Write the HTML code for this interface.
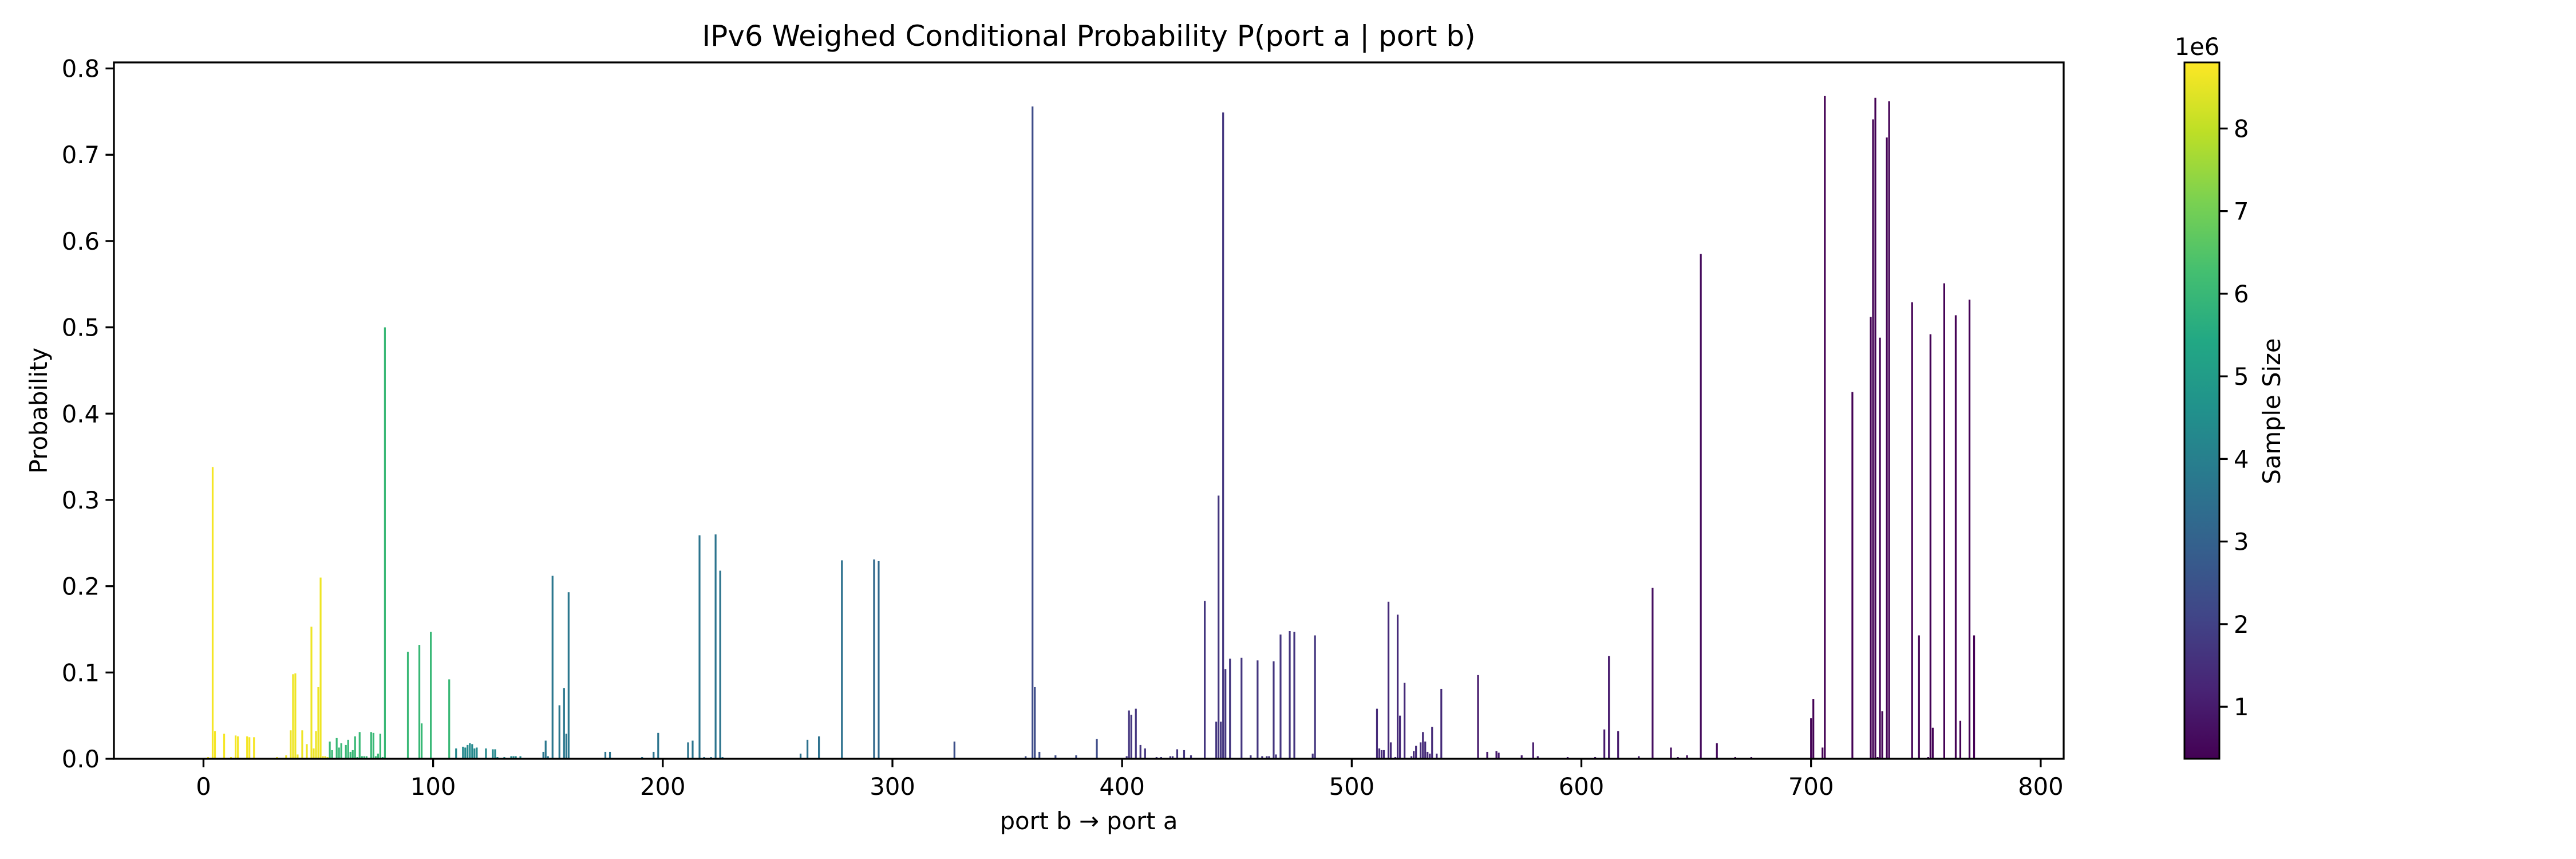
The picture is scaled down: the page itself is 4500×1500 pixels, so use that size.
<!DOCTYPE html>
<html><head><meta charset="utf-8"><style>
html,body{margin:0;padding:0;background:#fff}
svg{display:block;font-family:"DejaVu Sans","Liberation Sans",sans-serif}
</style></head><body>
<svg id="chart" width="4500" height="1500" viewBox="0 0 4500 1500" xmlns="http://www.w3.org/2000/svg">
<defs>
<linearGradient id="vir" x1="0" y1="1" x2="0" y2="0">
<stop offset="0" stop-color="#440154"/><stop offset="0.1" stop-color="#482475"/><stop offset="0.2" stop-color="#414487"/><stop offset="0.3" stop-color="#355f8d"/><stop offset="0.4" stop-color="#2a788e"/><stop offset="0.5" stop-color="#21918c"/><stop offset="0.6" stop-color="#22a884"/><stop offset="0.7" stop-color="#44bf70"/><stop offset="0.8" stop-color="#7ad151"/><stop offset="0.9" stop-color="#bddf26"/><stop offset="1" stop-color="#fde725"/>
</linearGradient>
</defs>
<text x="1902" y="80" font-size="50" text-anchor="middle">IPv6 Weighed Conditional Probability P(port a | port b)</text>
<g id="bars"></g>
<g id="axes"></g>
<text x="1902" y="1448" font-size="41.7" text-anchor="middle">port b → port a</text>
<text x="0" y="0" font-size="41.7" text-anchor="middle" transform="translate(82,717) rotate(-90)">Probability</text>
<rect x="3816" y="109" width="61" height="1216" fill="url(#vir)" stroke="#000" stroke-width="3"/>
<g id="cbticks"></g>
<text x="3838" y="96" font-size="41.7" text-anchor="middle">1e6</text>
<text x="0" y="0" font-size="41.7" text-anchor="middle" transform="translate(3983,718) rotate(-90)">Sample Size</text>
</svg>
<script>
const ports = [2,4,5,9,12,14,15,19,20,22,32,36,38,39,40,41,43,45,47,48,49,50,51,52,53,54,
55,56,58,59,60,62,63,64,65,66,67,68,69,70,71,73,74,75,76,77,78,79,89,94,95,99,107,
110,113,114,115,116,117,118,119,123,126,127,128,131,134,135,136,138,
148,149,150,152,155,157,158,159,175,177,191,196,198,211,213,216,218,221,223,225,226,240,243,246,250,260,263,268,278,
292,294,327,332,358,361,362,364,370,371,380,389,
402,403,404,406,408,410,415,417,421,422,424,427,430,436,441,442,443,444,445,447,450,452,456,459,461,463,464,466,467,469,473,475,481,482,483,484,
511,512,513,514,516,517,519,520,521,523,526,527,528,530,531,532,533,534,535,537,539,
555,559,563,564,574,579,581,589,594,606,610,612,616,625,
631,639,642,646,652,659,667,674,692,695,700,701,705,706,718,723,726,727,728,729,730,731,733,734,744,747,751,752,753,758,763,765,769,771];
const probs = [0.002,0.338,0.032,0.029,0.002,0.027,0.026,0.026,0.025,0.025,0.002,0.004,0.033,0.098,0.099,0.005,0.033,0.017,0.153,0.012,0.032,0.083,0.21,0.003,0.003,0.002,
0.02,0.01,0.024,0.013,0.018,0.016,0.022,0.008,0.01,0.026,0.002,0.031,0.003,0.003,0.003,0.031,0.03,0.003,0.006,0.029,0.002,0.50,0.124,0.132,0.041,0.147,0.092,
0.012,0.014,0.013,0.016,0.018,0.017,0.012,0.013,0.012,0.011,0.011,0.002,0.002,0.003,0.003,0.003,0.003,
0.008,0.021,0.003,0.212,0.062,0.082,0.029,0.193,0.008,0.008,0.002,0.008,0.03,0.019,0.021,0.259,0.002,0.002,0.26,0.218,0.002,0.001,0.001,0.001,0.001,0.006,0.022,0.026,0.23,
0.231,0.229,0.02,0.001,0.003,0.756,0.083,0.008,0.001,0.004,0.004,0.023,
0.003,0.056,0.051,0.058,0.016,0.012,0.002,0.002,0.003,0.003,0.011,0.010,0.004,0.183,0.043,0.305,0.043,0.749,0.104,0.116,0.001,0.117,0.004,0.114,0.003,0.003,0.003,0.113,0.005,0.144,0.148,0.147,0.001,0.001,0.006,0.143,
0.058,0.012,0.010,0.010,0.182,0.019,0.002,0.167,0.05,0.088,0.003,0.009,0.015,0.019,0.031,0.02,0.008,0.006,0.037,0.006,0.081,
0.097,0.008,0.009,0.007,0.004,0.019,0.003,0.001,0.002,0.002,0.034,0.119,0.032,0.003,
0.198,0.013,0.002,0.004,0.585,0.018,0.002,0.002,0.001,0.001,0.047,0.069,0.013,0.768,0.425,0.001,0.512,0.741,0.766,0.002,0.488,0.055,0.72,0.762,0.529,0.143,0.002,0.492,0.036,0.551,0.514,0.044,0.532,0.143];
const sizes = [8.7,8.7,8.7,8.7,8.7,8.7,8.7,8.7,8.7,8.7,8.6,8.6,8.6,8.6,8.6,8.6,8.6,8.6,8.6,8.6,8.6,8.6,8.6,8.6,8.6,8.6,
6.0,6.0,6.0,6.0,6.0,6.0,6.0,6.0,6.0,6.0,6.0,6.0,6.0,6.0,6.0,6.0,6.0,6.0,6.0,6.0,6.0,6.0,6.0,6.0,6.0,6.0,6.0,
4.3,4.3,4.3,4.3,4.3,4.3,4.3,4.3,4.3,4.3,4.3,4.3,4.3,4.3,4.3,4.3,4.3,
3.7,3.7,3.7,3.7,3.7,3.7,3.7,3.7,3.6,3.6,3.6,3.6,3.6,3.6,3.6,3.6,3.6,3.6,3.6,3.6,3.6,3.5,3.5,3.5,3.5,3.5,3.5,3.5,3.5,
3.2,3.2,2.4,2.4,2.3,2.3,2.3,2.3,2.3,2.3,2.3,2.3,
1.7,1.7,1.7,1.7,1.7,1.7,1.7,1.7,1.7,1.7,1.7,1.7,1.7,1.7,1.7,1.7,1.7,1.7,1.7,1.7,1.7,1.7,1.7,1.7,1.7,1.7,1.7,1.7,1.7,1.7,1.7,1.7,1.7,1.7,1.7,1.7,
1.4,1.4,1.4,1.4,1.4,1.4,1.4,1.4,1.4,1.4,1.4,1.4,1.4,1.4,1.4,1.4,1.4,1.4,1.4,1.4,1.4,
1.0,1.0,1.0,1.0,1.0,1.0,1.0,1.0,1.0,1.0,1.0,1.0,1.0,1.0,
0.7,0.7,0.7,0.7,0.6,0.6,0.6,0.6,0.5,0.5,0.4,0.4,0.4,0.4,0.4,0.4,0.4,0.4,0.4,0.4,0.4,0.4,0.4,0.4,0.4,0.4,0.4,0.4,0.4,0.4,0.4,0.4,0.4,0.4];
const xTicks = [0,100,200,300,400,500,600,700,800];
const yTicks = [0.0,0.1,0.2,0.3,0.4,0.5,0.6,0.7,0.8];
const cbTicks = [1,2,3,4,5,6,7,8];

const L=199,R=3605,T=109,B=1325;
const xMin=-39, xMax=810, yMin=0, yMax=0.807;
const cMin=0.37, cMax=8.8;
function sx(v){return L+(v-xMin)/(xMax-xMin)*(R-L);}
function sy(v){return B-(v-yMin)/(yMax-yMin)*(B-T);}
function cy(v){return B-(v-cMin)/(cMax-cMin)*(B-T);}
const vstops=["#440154","#482475","#414487","#355f8d","#2a788e","#21918c","#22a884","#44bf70","#7ad151","#bddf26","#fde725"];
function hex(h){return [1,3,5].map(i=>parseInt(h.substr(i,2),16));}
function viridis(t){t=Math.max(0,Math.min(1,t));const f=t*10,i=Math.min(9,Math.floor(f)),r=f-i;
const a=hex(vstops[i]),b=hex(vstops[i+1]);return "rgb("+a.map((c,k)=>Math.round(c+(b[k]-c)*r)).join(",")+")";}
const NS="http://www.w3.org/2000/svg";
function mk(tag,attrs,parent){const e=document.createElementNS(NS,tag);for(const k in attrs)e.setAttribute(k,attrs[k]);parent.appendChild(e);return e;}
const bars=document.getElementById('bars');
const bw=0.8*(R-L)/(xMax-xMin);
for(let i=0;i<ports.length;i++){
  const y0=sy(0),y1=sy(probs[i]);
  const r=mk('rect',{x:sx(ports[i])-bw/2,y:y1,width:bw,height:Math.max(0.5,y0-y1),fill:viridis((sizes[i]-cMin)/(cMax-cMin))},bars);
  
  
}
const ax=document.getElementById('axes');
const frame=mk('rect',{x:L,y:T,width:R-L,height:B-T,fill:"none",stroke:"#000","stroke-width":3.3},ax);


for(const t of xTicks){
  const x=sx(t);
  const tk=mk('line',{x1:x,y1:B,x2:x,y2:B+14.6,stroke:"#000","stroke-width":3.3},ax);
  
  
  const lb=mk('text',{x:x,y:B+63,"font-size":41.7,"text-anchor":"middle"},ax);
  lb.textContent=t;
  
  
}
for(const t of yTicks){
  const y=sy(t);
  const tk=mk('line',{x1:L,y1:y,x2:L-14.6,y2:y,stroke:"#000","stroke-width":3.3},ax);
  
  
  const lb=mk('text',{x:L-25,y:y+15,"font-size":41.7,"text-anchor":"end"},ax);
  lb.textContent=t.toFixed(1);
  
  
}
const cb=document.getElementById('cbticks');
for(const t of cbTicks){
  const y=cy(t);
  const tk=mk('line',{x1:3877,y1:y,x2:3891.6,y2:y,stroke:"#000","stroke-width":3.3},cb);
  
  
  const lb=mk('text',{x:3902,y:y+15,"font-size":41.7,"text-anchor":"start"},cb);
  lb.textContent=t;
  
  
}
</script>
</body></html>
